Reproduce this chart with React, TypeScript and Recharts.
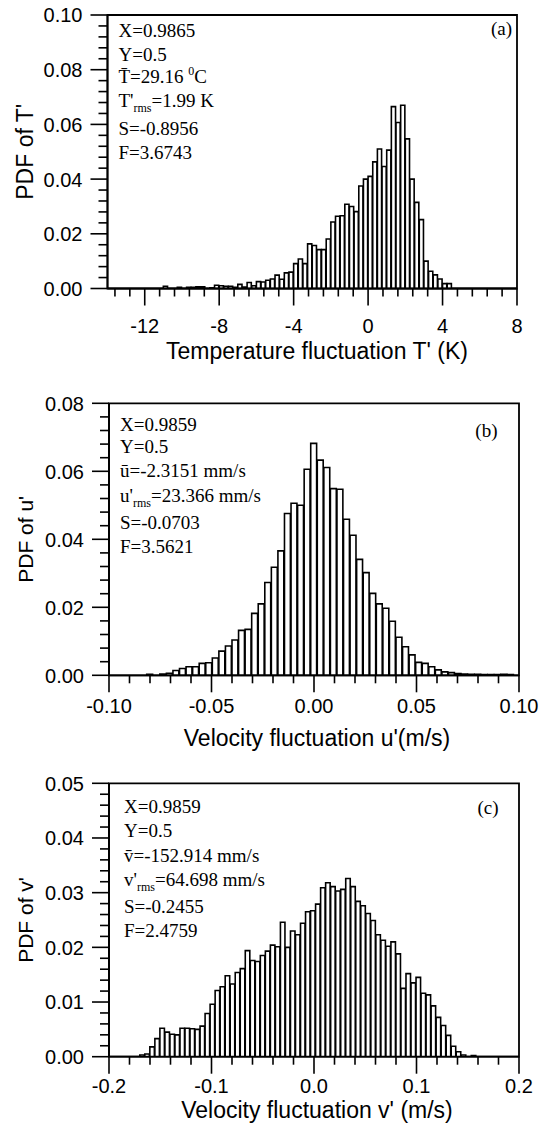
import { ComposedChart, Bar, XAxis, YAxis, ReferenceArea } from 'recharts';

const SANS = '"Liberation Sans", Arial, Helvetica, sans-serif';
const SERIF = '"Liberation Serif", "Times New Roman", Times, serif';

// (a) temperature fluctuation T' (K), 0.25 K bins, centre of the first bin
const tempBinStart = -10.875;
const tempBinWidth = 0.25;
const tempPdf = [
  0.0008, 0, 0, 0.0004, 0, 0.0004, 0.0004, 0.0006, 0.0006, 0,
  0.0003, 0.0012, 0.001, 0.0008, 0.0008, 0.0004, 0.0015, 0.0005, 0.0022, 0.001,
  0.0025, 0.0024, 0.003, 0.0035, 0.0049, 0.0034, 0.0057, 0.006,
  0.0091, 0.0108, 0.0091, 0.0163, 0.0157, 0.0142, 0.0142, 0.0181, 0.0243, 0.0264,
  0.0266, 0.0308, 0.03, 0.0281, 0.0375, 0.04, 0.041, 0.0463, 0.051, 0.0446,
  0.0506, 0.0665, 0.0607, 0.067, 0.0547, 0.04, 0.0315, 0.0252, 0.01, 0.0063,
  0.005, 0.0035, 0.0018, 0.0018,
];
const tempXMajor = [-12, -8, -4, 0, 4, 8];
const tempYMajor = [0, 0.02, 0.04, 0.06, 0.08, 0.1];

// (b) velocity fluctuation u' (m/s)
const uBinStart = -0.08;
const uBinWidth = 0.0032;
const uPdf = [
  0.0003, 0, 0.0004, 0.0006, 0.0014, 0.002, 0.0025, 0.0025, 0.0035, 0.0037,
  0.0051, 0.0071, 0.0086, 0.0104, 0.0132, 0.0135, 0.0182, 0.021, 0.0273, 0.0318,
  0.0366, 0.0476, 0.0506, 0.05, 0.0606, 0.0682, 0.0633, 0.0611, 0.0549, 0.0547,
  0.0459, 0.0412, 0.0341, 0.0302, 0.0241, 0.021, 0.0197, 0.0159, 0.0112, 0.0084,
  0.006, 0.0038, 0.0035, 0.0025, 0.0016, 0.001, 0.0008, 0.0005, 0.0004, 0.0003,
  0.0003, 0.0002, 0.0002, 0.0002, 0.0003, 0.0002,
];
const uXMajor = [-0.1, -0.05, 0, 0.05, 0.1];
const uYMajor = [0, 0.02, 0.04, 0.06, 0.08];

// (c) velocity fluctuation v' (m/s)
const vBinStart = -0.1675;
const vBinWidth = 0.0049;
const vPdf = [
  0.0003, 0.0005, 0.0018, 0.0033, 0.0052, 0.0045, 0.0041, 0.004, 0.0052, 0.0052,
  0.0051, 0.005, 0.0056, 0.0079, 0.0096, 0.0121, 0.0128, 0.0148, 0.0133, 0.0154,
  0.0161, 0.0194, 0.0176, 0.0174, 0.0185, 0.0193, 0.0204, 0.0201, 0.0246, 0.02,
  0.023, 0.0223, 0.0244, 0.0265, 0.0267, 0.0279, 0.0309, 0.0318, 0.0311, 0.0303,
  0.0306, 0.0326, 0.0311, 0.0284, 0.0276, 0.0262, 0.0249, 0.0223, 0.0213, 0.0202,
  0.021, 0.0188, 0.0125, 0.0152, 0.0135, 0.0145, 0.0116, 0.0113, 0.0093, 0.0072,
  0.0057, 0.0039, 0.0019, 0.0009, 0.0003, 0, 0.0002,
];
const vXMajor = [-0.2, -0.1, 0, 0.1, 0.2];
const vYMajor = [0, 0.01, 0.02, 0.03, 0.04, 0.05];

type Seg = [string, ('sub' | 'sup')?];

const tempNotes: Seg[][] = [
  [['X=0.9865']],
  [['Y=0.5']],
  [['T\u0304=29.16 '], ['0', 'sup'], ['C']],
  [["T'"], ['rms', 'sub'], ['=1.99 K']],
  [['S=-0.8956']],
  [['F=3.6743']],
];
const uNotes: Seg[][] = [
  [['X=0.9859']],
  [['Y=0.5']],
  [['\u016B=-2.3151 mm/s']],
  [["u'"], ['rms', 'sub'], ['=23.366 mm/s']],
  [['S=-0.0703']],
  [['F=3.5621']],
];
const vNotes: Seg[][] = [
  [['X=0.9859']],
  [['Y=0.5']],
  [['v\u0304=-152.914 mm/s']],
  [["v'"], ['rms', 'sub'], ['=64.698 mm/s']],
  [['S=-0.2455']],
  [['F=2.4759']],
];

function stepTicks(from: number, to: number, step: number) {
  const out: number[] = [];
  const n = Math.round((to - from) / step);
  for (let i = 0; i <= n; i++) out.push(+(from + i * step).toFixed(6));
  return out;
}

function bins(start: number, width: number, pdf: number[]) {
  return pdf.map((p, i) => ({ x: +(start + i * width).toFixed(6), pdf: p }));
}

const isIn = (list: number[], v: number) => list.some((m) => Math.abs(m - v) < 1e-7);

interface Spec {
  chartTop: number;
  chartHeight: number;
  plot: { left: number; right: number; top: number; bottom: number };
  data: { x: number; pdf: number }[];
  binWidth: number;
  xDomain: [number, number];
  xTicks: number[];
  xMajor: number[];
  xFmt: (v: number) => string;
  yDomain: [number, number];
  yTicks: number[];
  yMajor: number[];
  tickLabelDy: number;
  xTitle: string;
  xTitleDy: number;
  yTitle: string;
  yTitleSize: number;
  notes: Seg[][];
  notesX: number;
  notesY: number[];
  letter: string;
  letterX: number;
  letterDy: number;
}

const panels: Spec[] = [
  {
    chartTop: 0,
    chartHeight: 372,
    plot: { left: 107.5, right: 517, top: 15, bottom: 288.5 },
    data: bins(tempBinStart, tempBinWidth, tempPdf),
    binWidth: tempBinWidth,
    xDomain: [-14, 8],
    xTicks: stepTicks(-13.6, 8, 0.8),
    xMajor: tempXMajor,
    xFmt: (v) => String(v),
    yDomain: [0, 0.1],
    yTicks: stepTicks(0, 0.1, 0.004),
    yMajor: tempYMajor,
    tickLabelDy: 44,
    xTitle: "Temperature fluctuation T' (K)",
    xTitleDy: 70,
    yTitle: "PDF of T'",
    yTitleSize: 23,
    notes: tempNotes,
    notesX: 118.5,
    notesY: [21.7, 45.7, 68.3, 92.3, 120, 144.3],
    letter: '(a)',
    letterX: 512,
    letterDy: 20,
  },
  {
    chartTop: 372,
    chartHeight: 380,
    plot: { left: 109, right: 519, top: 403.3, bottom: 675.3 },
    data: bins(uBinStart, uBinWidth, uPdf),
    binWidth: uBinWidth,
    xDomain: [-0.1, 0.1],
    xTicks: stepTicks(-0.1, 0.1, 0.01),
    xMajor: uXMajor,
    xFmt: (v) => v.toFixed(2),
    yDomain: [0, 0.08],
    yTicks: stepTicks(0, 0.08, 0.004),
    yMajor: uYMajor,
    tickLabelDy: 38,
    xTitle: "Velocity fluctuation u'(m/s)",
    xTitleDy: 71,
    yTitle: "PDF of u'",
    yTitleSize: 21,
    notes: uNotes,
    notesX: 120,
    notesY: [27.4, 50, 74, 98.4, 126, 149.4],
    letter: '(b)',
    letterX: 497.5,
    letterDy: 33.4,
  },
  {
    chartTop: 752,
    chartHeight: 380,
    plot: { left: 109, right: 519, top: 783.3, bottom: 1056.7 },
    data: bins(vBinStart, vBinWidth, vPdf),
    binWidth: vBinWidth,
    xDomain: [-0.2, 0.2],
    xTicks: stepTicks(-0.2, 0.2, 0.02),
    xMajor: vXMajor,
    xFmt: (v) => v.toFixed(1),
    yDomain: [0, 0.05],
    yTicks: stepTicks(0, 0.05, 0.002),
    yMajor: vYMajor,
    tickLabelDy: 36,
    xTitle: "Velocity fluctuation v' (m/s)",
    xTitleDy: 61,
    yTitle: "PDF of v'",
    yTitleSize: 21,
    notes: vNotes,
    notesX: 124,
    notesY: [30, 54, 78.4, 102.4, 130, 154],
    letter: '(c)',
    letterX: 498.5,
    letterDy: 30.7,
  },
];

function NoteLine({ x, y, segs }: { x: number; y: number; segs: Seg[] }) {
  let shift = 0;
  return (
    <text x={x} y={y} fontFamily={SERIF} fontSize={19} fill="#000">
      {segs.map(([s, kind], i) => {
        const target = kind === 'sub' ? 5 : kind === 'sup' ? -8 : 0;
        const dy = target - shift;
        shift = target;
        return (
          <tspan key={i} dy={dy} fontSize={kind ? 12 : 19}>
            {s}
          </tspan>
        );
      })}
    </text>
  );
}

function Panel({ spec }: { spec: Spec }) {
  const { chartTop, chartHeight, plot } = spec;
  const plotW = plot.right - plot.left;
  const barPx = (spec.binWidth / (spec.xDomain[1] - spec.xDomain[0])) * plotW;

  const xTick = (p: any) => {
    const major = isIn(spec.xMajor, p.payload.value);
    return (
      <g>
        <line x1={p.x} x2={p.x} y1={p.y} y2={p.y + (major ? 17 : 8)} stroke="#000" strokeWidth={1.6} />
        {major && (
          <text x={p.x} y={p.y + spec.tickLabelDy} textAnchor="middle" fontFamily={SANS} fontSize={20} fill="#000">
            {spec.xFmt(p.payload.value)}
          </text>
        )}
      </g>
    );
  };

  const yTick = (p: any) => {
    const major = isIn(spec.yMajor, p.payload.value);
    return (
      <g>
        <line x1={p.x - (major ? 17 : 9)} x2={p.x} y1={p.y} y2={p.y} stroke="#000" strokeWidth={1.6} />
        {major && (
          <text x={p.x - 25} y={p.y} dy="0.37em" textAnchor="end" fontFamily={SANS} fontSize={20} fill="#000">
            {p.payload.value.toFixed(2)}
          </text>
        )}
      </g>
    );
  };

  return (
    <div style={{ position: 'absolute', left: 0, top: chartTop }}>
      <ComposedChart
        width={539}
        height={chartHeight}
        data={spec.data}
        margin={{ top: plot.top - chartTop, right: 539 - plot.right, bottom: 0, left: 0 }}
        barGap={0}
        barCategoryGap={0}
      >
        <XAxis
          type="number"
          dataKey="x"
          domain={spec.xDomain}
          ticks={spec.xTicks}
          interval={0}
          allowDataOverflow
          height={chartTop + chartHeight - plot.bottom}
          tickSize={0}
          tickMargin={0}
          tickLine={false}
          axisLine={{ stroke: '#000', strokeWidth: 1.8 }}
          tick={xTick}
        />
        <YAxis
          type="number"
          domain={spec.yDomain}
          ticks={spec.yTicks}
          interval={0}
          allowDataOverflow
          width={plot.left}
          tickSize={0}
          tickMargin={0}
          tickLine={false}
          axisLine={{ stroke: '#000', strokeWidth: 1.8 }}
          tick={yTick}
        />
        <Bar
          dataKey="pdf"
          fill="#fff"
          stroke="#000"
          strokeWidth={1.6}
          barSize={barPx}
          isAnimationActive={false}
        />
        <ReferenceArea
          x1={spec.xDomain[0]}
          x2={spec.xDomain[1]}
          y1={spec.yDomain[0]}
          y2={spec.yDomain[1]}
          fill="none"
          fillOpacity={0}
          stroke="#000"
          strokeWidth={1.8}
          ifOverflow="visible"
        />
      </ComposedChart>
    </div>
  );
}

export default function App() {
  return (
    <div style={{ position: 'absolute', left: 0, top: 0, width: 539, height: 1132, background: '#fff' }}>
      {panels.map((s) => (
        <Panel key={s.letter} spec={s} />
      ))}
      <svg
        width={539}
        height={1132}
        style={{ position: 'absolute', left: 0, top: 0, pointerEvents: 'none' }}
      >
        {panels.map((s) => {
          const midY = (s.plot.top + s.plot.bottom) / 2;
          return (
            <g key={s.letter}>
              {s.notes.map((segs, i) => (
                <NoteLine key={i} x={s.notesX} y={s.plot.top + s.notesY[i]} segs={segs} />
              ))}
              <text x={s.letterX} y={s.plot.top + s.letterDy} textAnchor="end" fontFamily={SERIF} fontSize={19} fill="#000">
                {s.letter}
              </text>
              <text x={317} y={s.plot.bottom + s.xTitleDy} textAnchor="middle" fontFamily={SANS} fontSize={23} fill="#000">
                {s.xTitle}
              </text>
              <text
                x={33}
                y={midY}
                transform={`rotate(-90, 33, ${midY})`}
                textAnchor="middle"
                fontFamily={SANS}
                fontSize={s.yTitleSize}
                fill="#000"
              >
                {s.yTitle}
              </text>
            </g>
          );
        })}
      </svg>
    </div>
  );
}
